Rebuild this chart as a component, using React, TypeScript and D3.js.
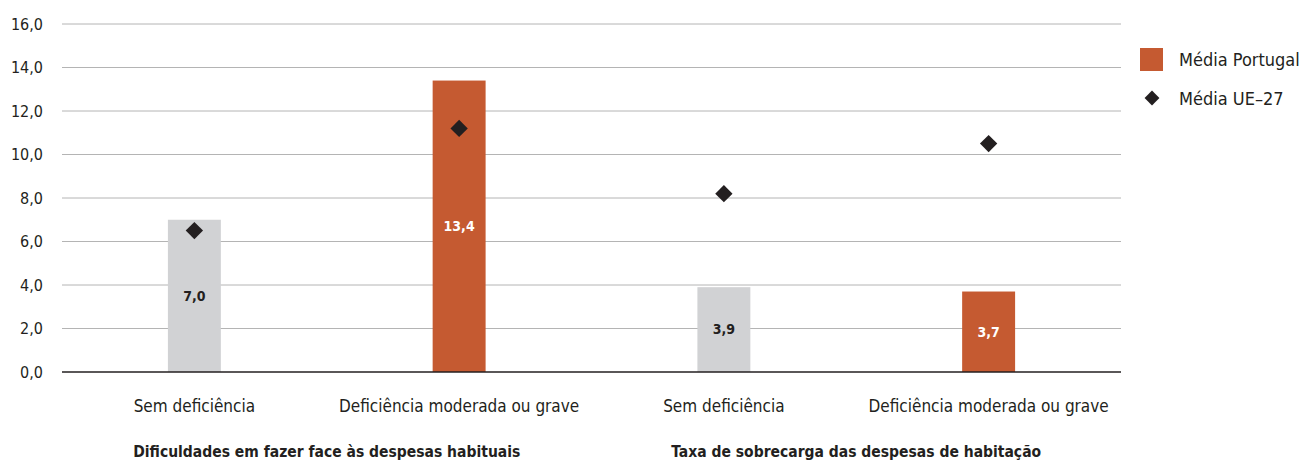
import * as d3 from "d3";
import React, { useEffect, useRef } from "react";

const categories = ["Sem deficiência", "Deficiência moderada ou grave", "Sem deficiência", "Deficiência moderada ou grave"];
const groups = ["Dificuldades em fazer face às despesas habituais", "Taxa de sobrecarga das despesas de habitação"];
const portugal = [7.0, 13.4, 3.9, 3.7];
const ue27 = [6.5, 11.2, 8.2, 10.5];
const yTicks = [0, 2, 4, 6, 8, 10, 12, 14, 16];
const legendLabels = ["Média Portugal", "Média UE–27"];

const FONT = "'Liberation Sans Narrow', 'DejaVu Sans Condensed', sans-serif";

const App = () => {
  const svgRef = useRef<SVGSVGElement>(null);

  useEffect(() => {
    const w = 1301;
    const h = 461;
    const left = 62;
    const right = 1121;
    const top = 24;
    const bottom = 372;

    const svg = d3.select(svgRef.current).attr("width", w).attr("height", h);
    svg.selectAll("*").remove();

    const x = d3.scaleBand<number>()
      .domain(d3.range(categories.length))
      .range([left, right])
      .paddingInner(0)
      .paddingOuter(0);
    const y = d3.scaleLinear().domain([0, 16]).range([bottom, top]);
    const barW = x.bandwidth() * 0.2;

    // grid
    svg.append("g")
      .selectAll("line")
      .data(yTicks.filter(t => t > 0))
      .enter()
      .append("line")
      .attr("x1", left)
      .attr("x2", right)
      .attr("y1", d => y(d))
      .attr("y2", d => y(d))
      .attr("stroke", "#b4b4b4")
      .attr("stroke-width", 1);

    // y labels
    svg.append("g")
      .selectAll("text")
      .data(yTicks)
      .enter()
      .append("text")
      .attr("x", 43)
      .attr("y", d => y(d))
      .attr("dy", "0.35em")
      .attr("text-anchor", "end")
      .attr("font-family", FONT)
      .attr("font-size", 16)
      .attr("fill", "#231f20")
      .text(d => d3.format(".1f")(d).replace(".", ","));

    const colorOf = (i: number) => (i % 2 === 0 ? "#d1d2d4" : "#c55a31");

    // bars
    svg.append("g")
      .selectAll("rect")
      .data(portugal)
      .enter()
      .append("rect")
      .attr("x", (d, i) => x(i)! + x.bandwidth() / 2 - barW / 2)
      .attr("y", d => y(d))
      .attr("width", barW)
      .attr("height", d => y(0) - y(d))
      .attr("fill", (d, i) => colorOf(i));

    // baseline
    svg.append("line")
      .attr("x1", left)
      .attr("x2", right)
      .attr("y1", y(0))
      .attr("y2", y(0))
      .attr("stroke", "#231f20")
      .attr("stroke-width", 1.5);

    // bar value labels
    svg.append("g")
      .selectAll("text")
      .data(portugal)
      .enter()
      .append("text")
      .attr("x", (d, i) => x(i)! + x.bandwidth() / 2)
      .attr("y", d => (y(d) + y(0)) / 2)
      .attr("dy", "0.35em")
      .attr("text-anchor", "middle")
      .attr("font-family", FONT)
      .attr("font-weight", "bold")
      .attr("font-size", 14)
      .attr("fill", (d, i) => (i % 2 === 0 ? "#231f20" : "#ffffff"))
      .text(d => d3.format(".1f")(d).replace(".", ","));

    // diamonds
    const diamond = d3.symbol().type(d3.symbolSquare).size(150);
    svg.append("g")
      .selectAll("path")
      .data(ue27)
      .enter()
      .append("path")
      .attr("d", diamond)
      .attr("transform", (d, i) => `translate(${x(i)! + x.bandwidth() / 2},${y(d)}) rotate(45)`)
      .attr("fill", "#231f20");

    // category labels
    svg.append("g")
      .selectAll("text")
      .data(categories)
      .enter()
      .append("text")
      .attr("x", (d, i) => x(i)! + x.bandwidth() / 2)
      .attr("y", 406)
      .attr("dy", "0.35em")
      .attr("text-anchor", "middle")
      .attr("font-family", FONT)
      .attr("font-size", 17)
      .attr("fill", "#231f20")
      .text(d => d);

    // group titles
    svg.append("g")
      .selectAll("text")
      .data(groups)
      .enter()
      .append("text")
      .attr("x", (d, i) => (x(i * 2)! + x(i * 2 + 1)! + x.bandwidth()) / 2)
      .attr("y", 452)
      .attr("dy", "0.35em")
      .attr("text-anchor", "middle")
      .attr("font-family", FONT)
      .attr("font-weight", "bold")
      .attr("font-size", 15.5)
      .attr("fill", "#231f20")
      .text(d => d);

    // legend
    const lg = svg.append("g");
    lg.append("rect")
      .attr("x", 1140)
      .attr("y", 48)
      .attr("width", 23)
      .attr("height", 23)
      .attr("fill", "#c55a31");
    lg.append("path")
      .attr("d", d3.symbol().type(d3.symbolSquare).size(110)())
      .attr("transform", "translate(1152,98) rotate(45)")
      .attr("fill", "#231f20");
    lg.selectAll("text")
      .data(legendLabels)
      .enter()
      .append("text")
      .attr("x", 1179)
      .attr("y", (d, i) => 60 + i * 39)
      .attr("dy", "0.35em")
      .attr("font-family", FONT)
      .attr("font-size", 18)
      .attr("fill", "#231f20")
      .text(d => d);
  }, []);

  return <svg ref={svgRef} style={{ position: "absolute", left: 0, top: 0 }} />;
};

export default App;
